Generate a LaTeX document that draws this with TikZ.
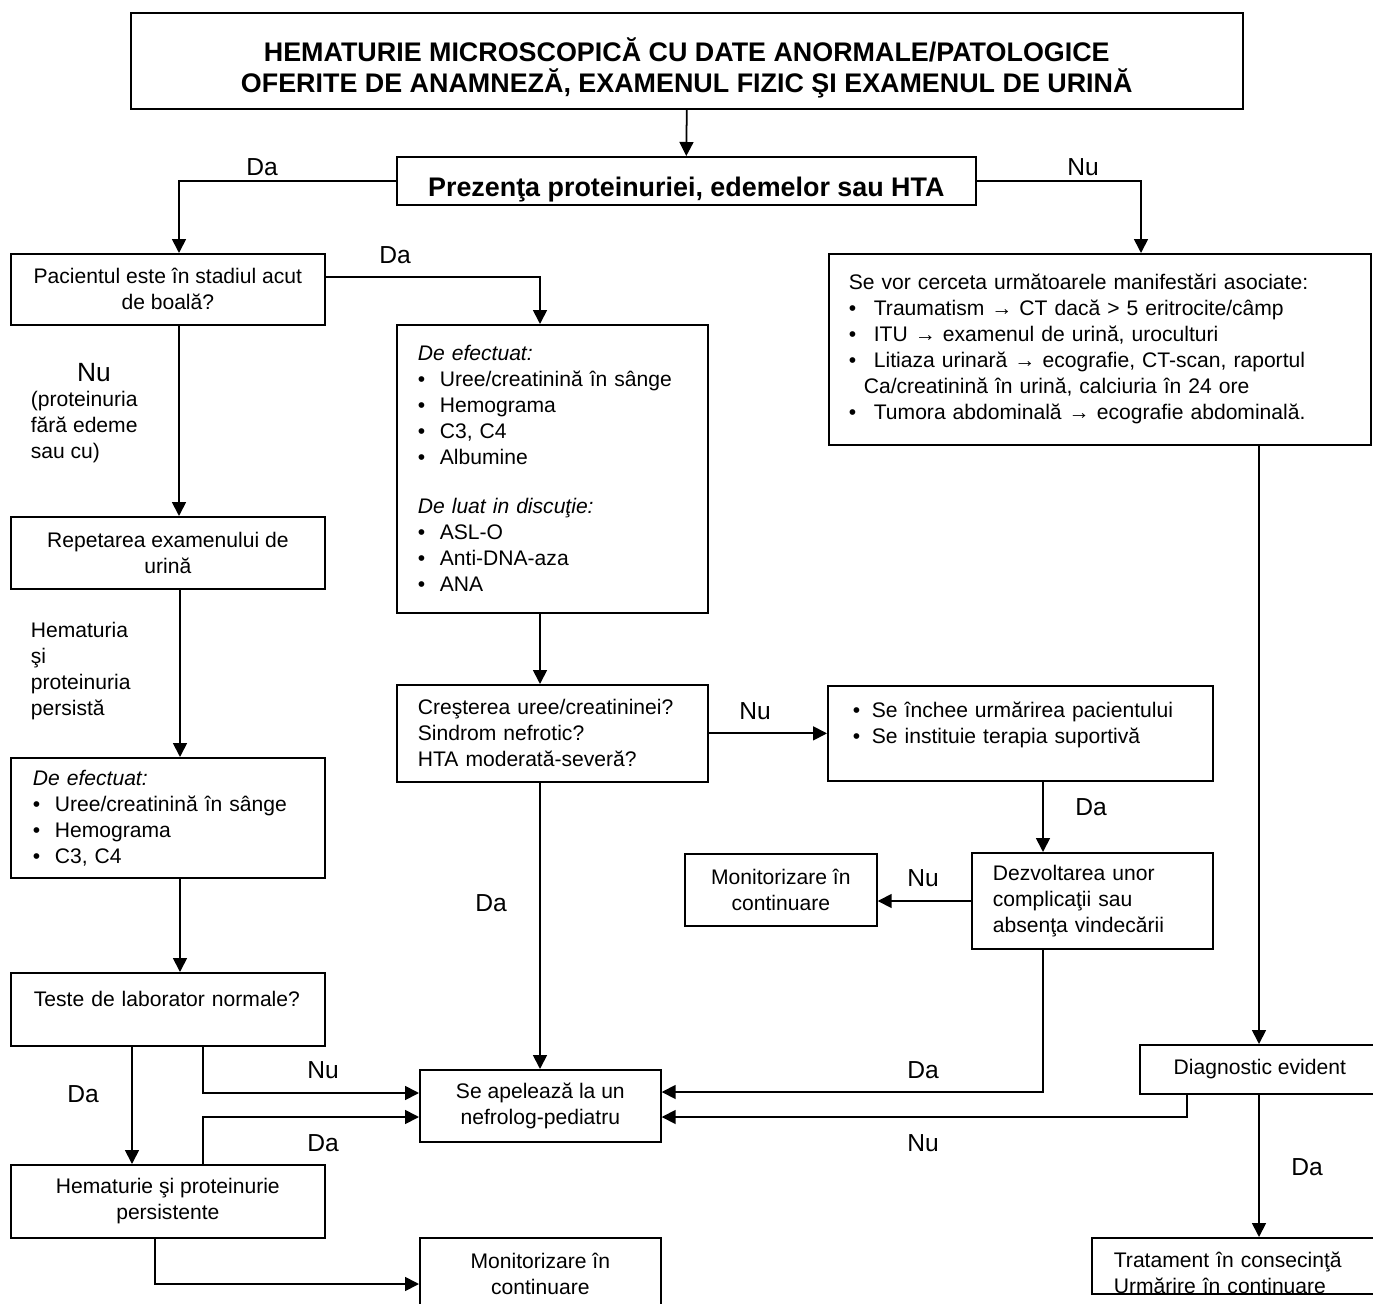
\documentclass[tikz,border=0pt]{standalone}
\usepackage{fontspec}
\setmainfont{Liberation Sans}
\usetikzlibrary{arrows.meta}
\newcommand{\bul}[1][0.44cm]{\makebox[#1][l]{•}}

\begin{document}
\begin{tikzpicture}[x=0.02cm, y=-0.02cm, line width=1pt,
	box/.style={draw, anchor=north west, inner sep=0pt, align=center, font=\fontsize{12}{14.8}\selectfont},
	lbox/.style={box, align=left},
	bbox/.style={box, font=\fontsize{15.3}{17.4}\selectfont\bfseries},
	lbl/.style={inner sep=0pt, font=\fontsize{14}{16}\selectfont},
	note/.style={inner sep=0pt, anchor=west, align=left, font=\fontsize{12}{14.8}\selectfont},
	arr/.style={-{Triangle[length=0.28cm, width=0.28cm]}}]
	\useasboundingbox (0,0) rectangle (1373,1304);
	\clip (0,0) rectangle (1373,1304);

	% boxes
	\node (title) at (130,12)	[bbox, minimum width=22.24cm, minimum height=1.92cm]	{\rule{0pt}{0.76cm}HEMATURIE MICROSCOPICĂ CU DATE ANORMALE/PATOLOGICE\\OFERITE DE ANAMNEZĂ, EXAMENUL FIZIC ŞI EXAMENUL DE URINĂ};
	\node (prez) at (396,156)	[bbox, minimum width=11.58cm, minimum height=0.96cm]	{\rule{0pt}{0.74cm}Prezenţa proteinuriei, edemelor sau HTA};
	\node (pac) at (10,253)	[box, minimum width=6.28cm, minimum height=1.42cm]	{Pacientul este în stadiul acut\\de boală?};
	\node (rep) at (10,516)	[box, minimum width=6.28cm, minimum height=1.44cm]	{Repetarea examenului de\\urină};
	\node (eff2) at (10,757)	[lbox, text width=5.4cm, inner xsep=0.44cm, minimum height=2.4cm]	{\textit{De efectuat:}\\ \bul Uree/creatinină în sânge\\ \bul Hemograma\\ \bul C3, C4};
	\node (teste) at (10,972)	[lbox, text width=5.36cm, inner xsep=0.46cm, minimum height=1.46cm]	{\raisebox{0.44cm}{Teste de laborator normale?}};
	\node (hem) at (10,1164)	[box, minimum width=6.28cm, minimum height=1.46cm]	{Hematurie şi proteinurie\\persistente};
	\node (eff1) at (396,324)	[lbox, text width=5.38cm, inner xsep=0.42cm, minimum height=5.76cm]	{\textit{De efectuat:}\\ \bul Uree/creatinină în sânge\\ \bul Hemograma\\ \bul C3, C4\\ \bul Albumine\\[0.46cm] \textit{De luat in discuţie:}\\ \bul ASL-O\\ \bul Anti-DNA-aza\\ \bul ANA};
	\node (cres) at (396,684)	[lbox, text width=5.38cm, inner xsep=0.42cm, minimum height=1.94cm]	{Creşterea uree/creatininei?\\Sindrom nefrotic?\\HTA moderată-severă?};
	\node (ap) at (419,1069)	[box, minimum width=4.82cm, minimum height=1.44cm]	{Se apelează la un\\nefrolog-pediatru};
	\node (mon2) at (419,1237)	[box, minimum width=4.82cm, minimum height=1.44cm]	{Monitorizare în\\continuare};
	\node (inchee) at (827,685)	[lbox, text width=6.7cm, inner xsep=0.5cm, minimum height=1.9cm]	{\bul[0.38cm]Se închee urmărirea pacientului\\ \bul[0.38cm]Se instituie terapia suportivă\\[-0.1cm]\mbox{}};
	\node (dez) at (971,852)	[lbox, text width=3.98cm, inner xsep=0.42cm, minimum height=1.92cm]	{Dezvoltarea unor\\complicaţii sau\\absenţa vindecării};
	\node (mon1) at (684,853)	[box, minimum width=3.84cm, minimum height=1.44cm]	{Monitorizare în\\continuare};
	\node (sevor) at (828,253)	[lbox, text width=10.04cm, inner xsep=0.4cm, minimum height=3.82cm]	{Se vor cerceta următoarele manifestări asociate:\\ \bul[0.5cm]Traumatism → CT dacă > 5 eritrocite/câmp\\ \bul[0.5cm]ITU → examenul de urină, uroculturi\\ \bul[0.5cm]Litiaza urinară → ecografie, CT-scan, raportul\\ \hspace*{0.3cm}Ca/creatinină în urină, calciuria în 24 ore\\ \bul[0.5cm]Tumora abdominală → ecografie abdominală.};
	\node (diag) at (1139,1044)	[box, minimum width=4.8cm, minimum height=0.98cm]	{Diagnostic evident};
	\node (trat) at (1091,1237)	[lbox, text width=5.84cm, inner xsep=0.44cm, minimum height=1.12cm]	{\rule{0pt}{0.6cm}Tratament în consecinţă\\Urmărire în continuare};

	% labels
	\node (daPrez) at (262,167)	[lbl]	{Da};
	\node (nuPrez) at (1083,167)	[lbl]	{Nu};
	\node (daPac) at (395,255)	[lbl]	{Da};
	\node (nuPac) at (94,373)	[lbl, font=\fontsize{15}{17}\selectfont]	{Nu};
	\node (nuNote) at (30,427)	[note]	{(proteinuria\\fără edeme\\sau cu)};
	\node (repNote) at (30,671)	[note]	{Hematuria\\şi\\proteinuria\\persistă};
	\node (nuCres) at (755,711)	[lbl]	{Nu};
	\node (daCres) at (491,903)	[lbl]	{Da};
	\node (daInchee) at (1091,807)	[lbl]	{Da};
	\node (nuDez) at (923,878)	[lbl]	{Nu};
	\node (daDez) at (923,1070)	[lbl]	{Da};
	\node (nuDiag) at (923,1143)	[lbl]	{Nu};
	\node (daDiag) at (1307,1167)	[lbl]	{Da};
	\node (daTeste) at (83,1094)	[lbl]	{Da};
	\node (nuTeste) at (323,1070)	[lbl]	{Nu};
	\node (daHem) at (323,1143)	[lbl]	{Da};

	% connectors
	\draw[arr] (title.south) -- (prez.north);
	\draw[arr] (prez.west) -| (pac.north -| 179,0);
	\draw[arr] (prez.east) -| (sevor.north -| 1141,0);
	\draw[arr] (pac.east |- 0,277) -| (eff1.north -| 540,0);
	\draw[arr] (pac.south -| 179,0) -- (rep.north -| 179,0);
	\draw[arr] (rep.south -| 180,0) -- (eff2.north -| 180,0);
	\draw[arr] (eff2.south -| 180,0) -- (teste.north -| 180,0);
	\draw[arr] (teste.south -| 132,0) -- (hem.north -| 132,0);
	\draw[arr] (teste.south -| 203,0) |- (ap.west |- 0,1093);
	\draw[arr] (hem.north -| 203,0) |- (ap.west |- 0,1117);
	\draw[arr] (hem.south -| 155,0) |- (mon2.west |- 0,1284);
	\draw[arr] (eff1.south -| 540,0) -- (cres.north -| 540,0);
	\draw[arr] (cres.east) -- (inchee.west);
	\draw[arr] (cres.south -| 540,0) -- (ap.north -| 540,0);
	\draw[arr] (inchee.south -| 1043,0) -- (dez.north -| 1043,0);
	\draw[arr] (dez.west |- 0,901) -- (mon1.east |- 0,901);
	\draw[arr] (dez.south -| 1043,0) |- (ap.east |- 0,1092);
	\draw[arr] (sevor.south -| 1259,0) -- (diag.north -| 1259,0);
	\draw[arr] (diag.south -| 1187,0) |- (ap.east |- 0,1117);
	\draw[arr] (diag.south -| 1259,0) -- (trat.north -| 1259,0);
\end{tikzpicture}
\end{document}
